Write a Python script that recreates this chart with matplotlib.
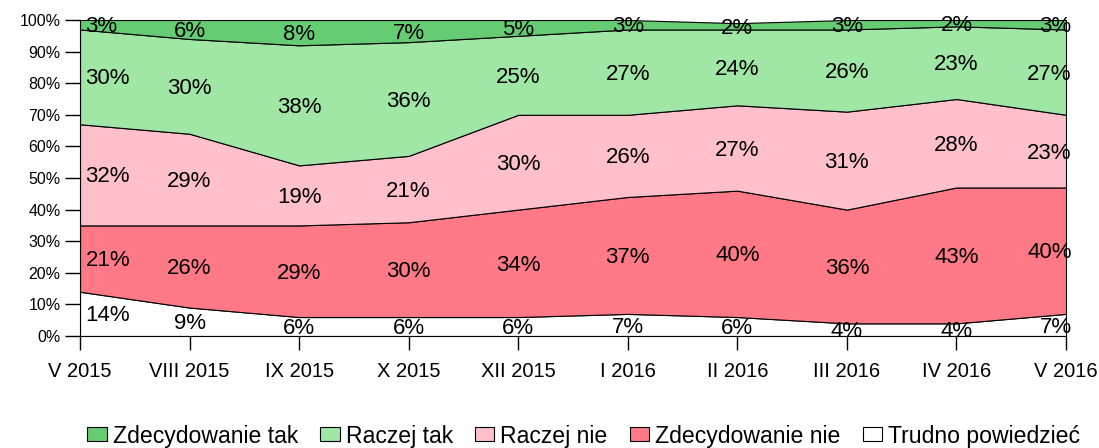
import numpy as np
import matplotlib.pyplot as plt

plt.rcParams['font.family'] = ['Liberation Sans', 'DejaVu Sans']

# dane
okresy = ['V 2015', 'VIII 2015', 'IX 2015', 'X 2015', 'XII 2015',
          'I 2016', 'II 2016', 'III 2016', 'IV 2016', 'V 2016']
trudno = [14, 9, 6, 6, 6, 7, 6, 4, 4, 7]
zdec_nie = [21, 26, 29, 30, 34, 37, 40, 36, 43, 40]
raczej_nie = [32, 29, 19, 21, 30, 26, 27, 31, 28, 23]
raczej_tak = [30, 30, 38, 36, 25, 27, 24, 26, 23, 27]
zdec_tak = [3, 6, 8, 7, 5, 3, 2, 3, 2, 3]

nazwy = ['Trudno powiedzieć', 'Zdecydowanie nie', 'Raczej nie',
         'Raczej tak', 'Zdecydowanie tak']
kolory = ['#FFFFFF', '#FF7A86', '#FFC0CB', '#A0E6A4', '#66CC73']
serie = [trudno, zdec_nie, raczej_nie, raczej_tak, zdec_tak]

fig = plt.figure(figsize=(10.99, 4.48), dpi=100)
ax = fig.add_axes([80/1099, 1 - 336/448, (1066-80)/1099, (336-20)/448])

x = np.arange(len(okresy))
polys = ax.stackplot(x, *serie, colors=kolory, labels=nazwy,
                     edgecolor='black', linewidth=0.8)

# etykiety w srodku pasow
dol = np.zeros(len(okresy))
for s in serie:
    s = np.array(s)
    for i in range(len(okresy)):
        yy = dol[i] + s[i] / 2
        if i == 0:
            dx, ha = 4, 'left'
        elif i == len(okresy) - 1:
            dx, ha = 4, 'right'
        else:
            dx, ha = 0, 'center'
        ax.annotate(f'{s[i]}%', (x[i], yy), xytext=(dx, -1.5), textcoords='offset points',
                    ha=ha, va='center', fontsize=16)
    dol += s

ax.set_xlim(0, 9)
ax.set_ylim(0, 100)
ax.set_xticks(x)
ax.set_xticklabels(okresy, fontsize=14.5)
ax.set_yticks(range(0, 101, 10))
ax.set_yticklabels([f'{v}%' for v in range(0, 101, 10)], fontsize=11.5)
ax.tick_params(axis='y', length=11, width=1, pad=3)
ax.tick_params(axis='x', length=10, width=1, pad=9)
ax.spines['top'].set_visible(False)
ax.spines['right'].set_visible(False)

h, l = ax.get_legend_handles_labels()
ax.legend(h[::-1], l[::-1], loc='center', bbox_to_anchor=(0.531, 1 - 436/448),
          bbox_transform=fig.transFigure, ncol=5, frameon=False, fontsize=16.6,
          handlelength=0.86, handleheight=0.56, handletextpad=0.26, columnspacing=0.95,
          borderpad=0, borderaxespad=0)

fig.savefig('out.png', dpi=100)
